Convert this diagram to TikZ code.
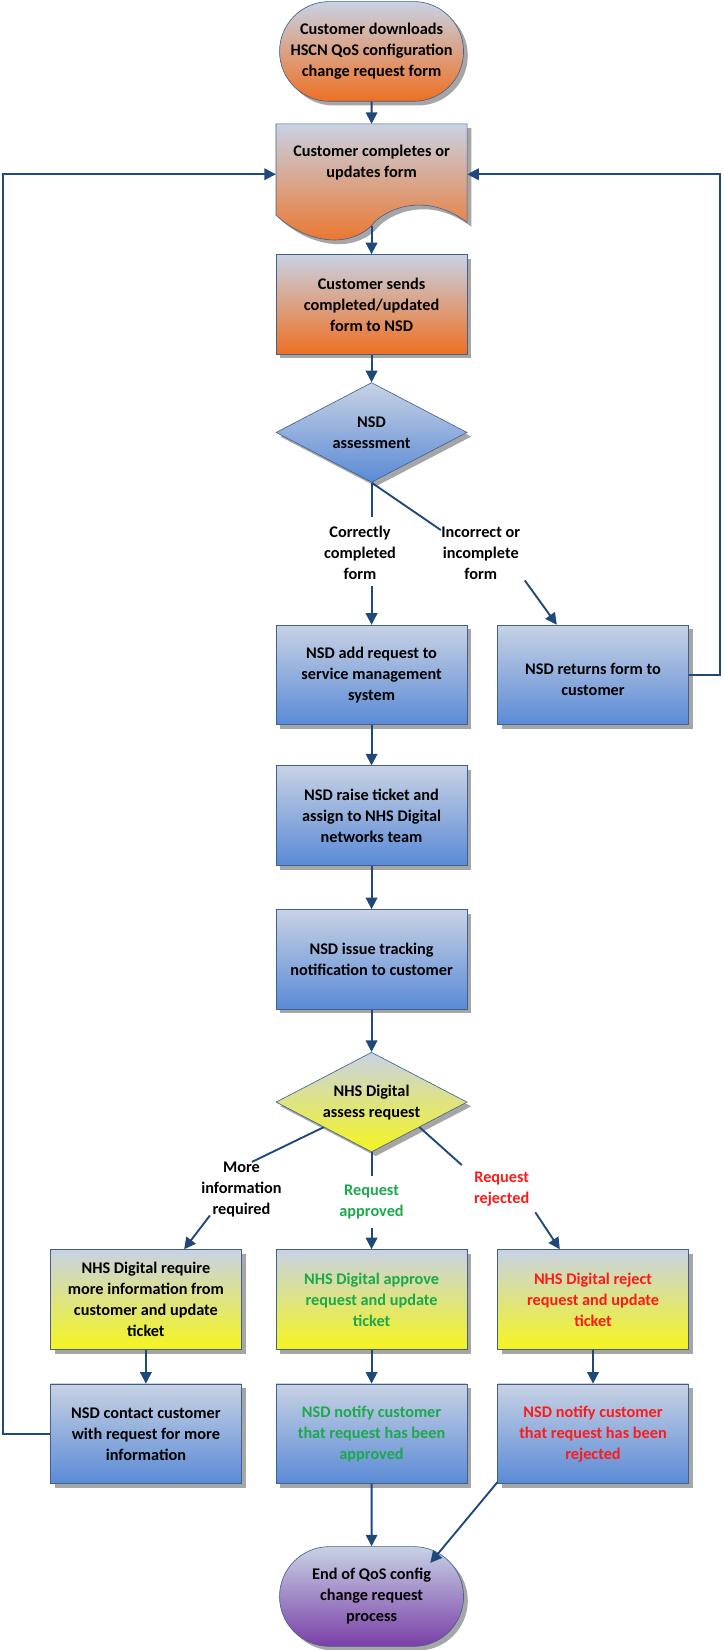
\documentclass[tikz,border=0pt]{standalone}
\usepackage{fontspec}
\setmainfont{Carlito}
\usetikzlibrary{shapes.geometric,shapes.misc,arrows.meta,shadows}
\definecolor{top}{HTML}{C8D2E4}
\definecolor{blu}{HTML}{5A8AD6}
\definecolor{org}{HTML}{EE7022}
\definecolor{yel}{HTML}{F5F51E}
\definecolor{pur}{HTML}{7A3FA8}
\definecolor{edge}{HTML}{1F497D}
\definecolor{brd}{HTML}{40618F}
\definecolor{gr}{HTML}{1BA94C}
\definecolor{rd}{HTML}{FF1A1A}
\begin{document}
\begin{tikzpicture}[x=1pt,y=-1pt,
  base/.style={draw=brd,line width=0.6pt,align=center,font=\bfseries\fontsize{15.5}{20}\selectfont,
    minimum width=182pt,minimum height=95pt,
    drop shadow={shadow xshift=4pt,shadow yshift=-4pt,fill=black!35,opacity=1}},
  bbox/.style={base,rectangle,top color=top,bottom color=blu},
  obox/.style={base,rectangle,top color=top,bottom color=org},
  ybox/.style={base,rectangle,top color=top,bottom color=yel},
  term/.style={base,rounded rectangle},
  dia/.style={base,diamond,aspect=1.92,inner sep=0pt,minimum width=182pt,minimum height=95pt},
  lab/.style={align=center,font=\bfseries\fontsize{15.5}{20}\selectfont},
  arr/.style={draw=edge,line width=1.8pt,-{Triangle[length=11pt,width=11pt]}},
  ln/.style={draw=edge,line width=1.8pt}]
\useasboundingbox (0,0) rectangle (689,1572);
\node[term,top color=top,bottom color=org] (s) at (354,49) {Customer downloads\\HSCN QoS configuration\\change request form};
% document shape
\path[draw=brd,line width=0.6pt,top color=top,bottom color=org,
  drop shadow={shadow xshift=4pt,shadow yshift=-4pt,fill=black!35,opacity=1}]
  (263,118) -- (445,118) -- (445,212) .. controls (400,178) and (360,205) .. (354,215)
  .. controls (330,238) and (290,230) .. (263,205) -- cycle;
\node[lab,minimum width=182pt,minimum height=95pt] (doc) at (354,166) {};
\node[lab] at (354,155) {Customer completes or\\updates form};
\node[obox] (send) at (354,290) {Customer sends\\completed/updated\\form to NSD};
\node[dia,top color=top,bottom color=blu] (d1) at (354,412) {NSD\\assessment};
\node[bbox] (add) at (354,643) {NSD add request to\\service management\\system};
\node[bbox] (ret) at (565,643) {\\NSD returns form to\\customer};
\node[bbox] (raise) at (354,777) {NSD raise ticket and\\assign to NHS Digital\\networks team};
\node[bbox] (issue) at (354,914) {NSD issue tracking\\notification to customer};
\node[dia,top color=top,bottom color=yel] (d2) at (354,1050) {NHS Digital\\assess request};
\node[ybox] (more) at (139,1238) {NHS Digital require\\more information from\\customer and update\\ticket};
\node[ybox,text=gr] (appr) at (354,1238) {NHS Digital approve\\request and update\\ticket};
\node[ybox,text=rd] (rej) at (565,1238) {NHS Digital reject\\request and update\\ticket};
\node[bbox] (cont) at (139,1366) {NSD contact customer\\with request for more\\information};
\node[bbox,text=gr] (na) at (354,1366) {NSD notify customer\\that request has been\\approved};
\node[bbox,text=rd] (nr) at (565,1366) {NSD notify customer\\that request has been\\rejected};
\node[term,top color=top,bottom color=pur] (end) at (354,1521) {End of QoS config\\change request\\process};
% labels
\node[lab] (l1) at (343,527) {Correctly\\completed\\form};
\node[lab] (l2) at (458,527) {Incorrect or\\incomplete\\form};
\node[lab] (l3) at (230,1133) {More\\information\\required};
\node[lab,text=gr] (l4) at (354,1145) {Request\\approved};
\node[lab,text=rd] (l5) at (478,1133) {Request\\rejected};
% connectors
\draw[arr] (s) -- (354,118);
\draw[arr] (354,215) -- (send);
\draw[arr] (send) -- (d1);
\draw[ln] (d1.south) -- (354,493);
\draw[arr] (354,558) -- (add);
\draw[ln] (d1.south) -- (420,505);
\draw[arr] (500,553) -- (ret);
\draw[arr] (add) -- (raise);
\draw[arr] (raise) -- (issue);
\draw[arr] (issue) -- (d2);
\draw[ln] (d2.south west) -- (240,1107);
\draw[arr] (200,1158) -- (more);
\draw[ln] (d2.south) -- (354,1120);
\draw[arr] (354,1170) -- (appr);
\draw[ln] (d2.south east) -- (440,1110);
\draw[arr] (510,1155) -- (rej);
\draw[arr] (more) -- (cont);
\draw[arr] (appr) -- (na);
\draw[arr] (rej) -- (nr);
\draw[arr] (na) -- (end);
\draw[arr] (474,1412) -- (410,1489);
\draw[arr] (cont.west) -- (3,1366) -- (3,166) -- (doc.west);
\draw[arr] (ret.east) -- (686,643) -- (686,166) -- (doc.east);
\end{tikzpicture}
\end{document}
